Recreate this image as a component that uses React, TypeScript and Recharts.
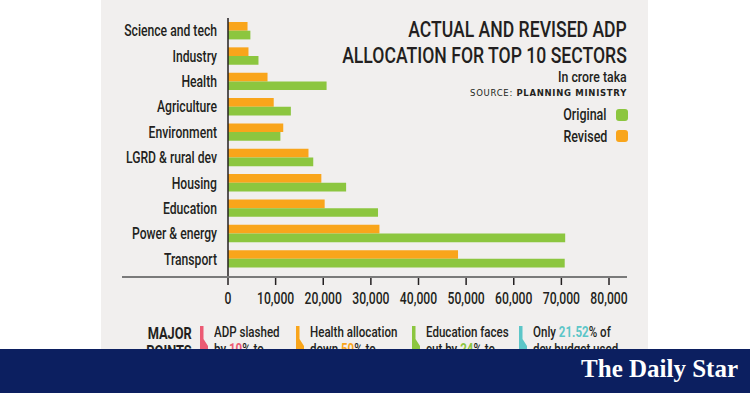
import React from "react";
import { BarChart, Bar, XAxis, YAxis } from "recharts";

document.body.style.margin = "0";

// ADP allocation, crore taka
const sectors = [
  "Science and tech",
  "Industry",
  "Health",
  "Agriculture",
  "Environment",
  "LGRD & rural dev",
  "Housing",
  "Education",
  "Power & energy",
  "Transport",
];
const original = [4700, 6400, 20700, 13200, 11000, 17900, 24800, 31500, 70800, 70700];
const revised = [4100, 4300, 8300, 9600, 11600, 16900, 19600, 20300, 31800, 48300];
const xTicks = [0, 10000, 20000, 30000, 40000, 50000, 60000, 70000, 80000];

const legendNames = ["Original", "Revised"];

// "major points" strip, partly hidden under the footer
const pointLine1 = [
  ["ADP slashed", "", ""],
  ["Health allocation", "", ""],
  ["Education faces", "", ""],
  ["Only ", "21.52", "% of"],
];
const pointLine2 = [
  ["by ", "10", "% to"],
  ["down ", "50", "% to"],
  ["cut by ", "24", "% to"],
  ["dev budget used", "", ""],
];

const GREEN = "#8cc63f";
const ORANGE = "#f9a51b";
const INK = "#231f20";
const PANEL = "#f1efee";
const NAVY = "#0c1f60";
const pointColors = ["#ec5a73", ORANGE, GREEN, "#5cc6c8"];
const pointX = [200, 296, 412, 519];
const legendColors = [GREEN, ORANGE];

// no condensed face is installed, so text is squeezed horizontally
const FONT = 'Roboto, "Open Sans", sans-serif';
const SQ = 0.76;

const data = sectors.map((s, i) => ({ sector: s, original: original[i], revised: revised[i] }));

const SectorTick = (props: any) => {
  const { x, y, payload } = props;
  return (
    <text
      transform={`translate(${x},${y}) scale(${SQ},1)`}
      textAnchor="end"
      dy="0.36em"
      fontSize={16}
      fontWeight={500}
      fontFamily={FONT}
      fill={INK}
    >
      {payload.value}
    </text>
  );
};

const ValueTick = (props: any) => {
  const { x, y, payload } = props;
  return (
    <text
      transform={`translate(${x},${y}) scale(${SQ},1)`}
      textAnchor="middle"
      dy="0.71em"
      fontSize={16}
      fontWeight={500}
      fontFamily={FONT}
      fill={INK}
    >
      {Number(payload.value).toLocaleString("en-US")}
    </text>
  );
};

const squeeze = (s: number, origin: string): React.CSSProperties => ({
  display: "inline-block",
  transform: `scaleX(${s})`,
  transformOrigin: origin,
  whiteSpace: "nowrap",
});

export default function App() {
  return (
    <div style={{ width: 750, height: 393, position: "relative", overflow: "hidden", background: "#fff", fontFamily: FONT, fontWeight: 500, color: INK }}>
      <div style={{ position: "absolute", left: 101, top: 0, width: 547, height: 349, background: PANEL }} />

      {/* title block */}
      <div style={{ position: "absolute", right: 123, top: 17, textAlign: "right", fontSize: 22, lineHeight: "26px", ...squeeze(0.8, "100% 0") }}>
        <div>ACTUAL AND REVISED ADP</div>
        <div>ALLOCATION FOR TOP 10 SECTORS</div>
      </div>
      <div style={{ position: "absolute", right: 123, top: 70, fontSize: 15, lineHeight: 1, ...squeeze(0.82, "100% 0") }}>In crore taka</div>
      <div style={{ position: "absolute", right: 123, top: 88.5, fontSize: 8.5, fontWeight: 400, lineHeight: 1, letterSpacing: 0.7, fontFamily: "DejaVu Sans", whiteSpace: "nowrap" }}>
        SOURCE: <b>PLANNING MINISTRY</b>
      </div>

      {/* legend */}
      <div style={{ position: "absolute", right: 122, top: 104, fontSize: 16 }}>
        {legendNames.map((n, i) => (
          <div key={n} style={{ display: "flex", alignItems: "center", justifyContent: "flex-end", height: 21.5 }}>
            <span style={squeeze(0.78, "100% 50%")}>{n}</span>
            <span style={{ display: "inline-block", width: 12, height: 12, borderRadius: 3, background: legendColors[i], marginLeft: 9 }} />
          </div>
        ))}
      </div>

      <div style={{ position: "absolute", left: 0, top: 0 }}>
        <BarChart
          width={750}
          height={317}
          data={data}
          layout="vertical"
          margin={{ top: 18, right: 141, bottom: 0, left: 0 }}
          barGap={0}
          barSize={8.7}
        >
          <XAxis
            type="number"
            domain={[0, 80000]}
            ticks={xTicks}
            interval={0}
            height={40}
            axisLine={false}
            tickLine={{ stroke: INK, strokeWidth: 1.5 }}
            tickSize={8}
            tickMargin={8}
            tick={<ValueTick />}
          />
          <YAxis
            type="category"
            dataKey="sector"
            width={228}
            interval={0}
            padding={{ top: 0, bottom: 5.5 }}
            axisLine={{ stroke: INK, strokeWidth: 1.5 }}
            tickLine={false}
            tickSize={0}
            tickMargin={11}
            tick={<SectorTick />}
          />
          <Bar dataKey="revised" fill={ORANGE} isAnimationActive={false} />
          <Bar dataKey="original" fill={GREEN} isAnimationActive={false} />
        </BarChart>
      </div>

      {/* long baseline under the bars */}
      <div style={{ position: "absolute", left: 122, top: 276.2, width: 505, height: 1.5, background: "#7a7a7a" }} />

      {/* major points */}
      <div style={{ position: "absolute", right: 750 - 192, top: 325, textAlign: "right", fontWeight: "bold", fontSize: 16, lineHeight: "18px", ...squeeze(0.8, "100% 0") }}>
        <div>MAJOR</div>
        <div>POINTS</div>
      </div>
      {pointLine1.map((l1, i) => (
        <div key={i} style={{ position: "absolute", left: pointX[i], top: 326 }}>
          <svg width={10} height={24} style={{ position: "absolute", left: 0, top: 0 }}>
            <path d="M0 0 H3.5 V13 L8 20 V24 H0 Z" fill={pointColors[i]} />
          </svg>
          <div style={{ position: "absolute", left: 14, top: -2.5, fontSize: 15, lineHeight: "17.5px", ...squeeze(0.77, "0 0") }}>
            <div>
              {l1[0]}
              <span style={{ color: pointColors[i], fontWeight: "bold" }}>{l1[1]}</span>
              {l1[2]}
            </div>
            <div>
              {pointLine2[i][0]}
              <span style={{ color: pointColors[i], fontWeight: "bold" }}>{pointLine2[i][1]}</span>
              {pointLine2[i][2]}
            </div>
          </div>
        </div>
      ))}

      {/* footer */}
      <div style={{ position: "absolute", left: 0, top: 348.5, width: 750, height: 45, background: NAVY, zIndex: 2 }}>
        <div style={{ position: "absolute", right: 12, top: 6, color: "#fff", fontFamily: '"Liberation Serif", serif', fontWeight: "bold", fontSize: 25, whiteSpace: "nowrap" }}>
          The Daily Star
        </div>
      </div>
    </div>
  );
}
